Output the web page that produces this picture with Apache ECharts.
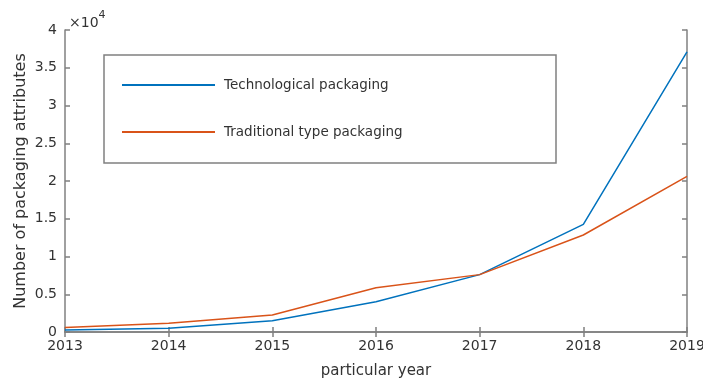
<!DOCTYPE html>
<html>
<head>
<meta charset="utf-8">
<script src="https://cdn.jsdelivr.net/npm/echarts@6/dist/echarts.min.js"></script>
<style>
  html, body { margin: 0; padding: 0; background: #fff; }
  #chart { width: 703px; height: 385px; }
</style>
</head>
<body>
<div id="chart"></div>
<script>
const years = ['2013', '2014', '2015', '2016', '2017', '2018', '2019']
const techPackaging = [250, 500, 1500, 4000, 7600, 14250, 37100]
const traditionalPackaging = [600, 1150, 2250, 5850, 7600, 12850, 20600]
const seriesNames = ['Technological packaging', 'Traditional type packaging']

const font = 'DejaVu Sans'
const textColor = '#333'
const axisColor = '#808080'

const chart = echarts.init(document.getElementById('chart'))

const boxAxisLine = {show: true, lineStyle: {color: axisColor, width: 1.5}}
const innerTick = {show: true, inside: true, length: 5, lineStyle: {color: axisColor, width: 1.5}}

chart.setOption({
  animation: false,
  textStyle: {fontFamily: font},
  title: {
    left: 64,
    top: 5,
    text: '{a|×10}{b|4}',
    textStyle: {
      rich: {
        a: {fontFamily: font, fontSize: 14, fontWeight: 'normal', color: textColor, padding: [6, 0, 0, 0]},
        b: {fontFamily: font, fontSize: 11, fontWeight: 'normal', color: textColor, verticalAlign: 'top'}
      }
    }
  },
  grid: {left: 65, right: 16, top: 30, bottom: 53, outerBoundsMode: 'none'},
  graphic: [{
    type: 'rect',
    z: 3,
    shape: {x: 104, y: 55, width: 452, height: 108},
    style: {fill: '#fff', stroke: axisColor, lineWidth: 1.5}
  }],
  legend: {
    orient: 'vertical',
    left: 122,
    top: 77,
    padding: 0,
    itemWidth: 93,
    itemHeight: 2,
    itemGap: 31,
    icon: 'rect',
    textStyle: {fontFamily: font, fontSize: 13.5, color: textColor, lineHeight: 16, padding: [0, 0, 0, 4]},
    data: seriesNames
  },
  xAxis: [{
    type: 'category',
    data: years,
    boundaryGap: false,
    name: 'particular year',
    nameLocation: 'middle',
    nameGap: 32,
    nameMoveOverlap: false,
    nameTextStyle: {fontFamily: font, fontSize: 15, color: textColor},
    axisLine: boxAxisLine,
    axisTick: innerTick,
    axisLabel: {fontFamily: font, fontSize: 14, color: textColor, margin: 7, showMaxLabel: true, showMinLabel: true},
    splitLine: {show: false}
  }, {
    type: 'category',
    data: years,
    boundaryGap: false,
    position: 'top',
    axisLine: boxAxisLine,
    axisTick: innerTick,
    axisLabel: {show: false},
    splitLine: {show: false}
  }],
  yAxis: [{
    type: 'value',
    min: 0,
    max: 40000,
    interval: 5000,
    name: 'Number of packaging attributes',
    nameLocation: 'middle',
    nameGap: 36,
    nameMoveOverlap: false,
    nameTextStyle: {fontFamily: font, fontSize: 16, color: textColor},
    axisLine: boxAxisLine,
    axisTick: innerTick,
    axisLabel: {
      fontFamily: font, fontSize: 14, color: textColor, margin: 8,
      formatter: v => String(v / 10000)
    },
    splitLine: {show: false}
  }, {
    type: 'value',
    min: 0,
    max: 40000,
    interval: 5000,
    position: 'right',
    axisLine: boxAxisLine,
    axisTick: innerTick,
    axisLabel: {show: false},
    splitLine: {show: false}
  }],
  series: [
    {
      name: seriesNames[0],
      type: 'line',
      data: techPackaging,
      symbol: 'none',
      color: '#0072BD',
      lineStyle: {width: 1.5, color: '#0072BD'}
    },
    {
      name: seriesNames[1],
      type: 'line',
      data: traditionalPackaging,
      symbol: 'none',
      color: '#D95319',
      lineStyle: {width: 1.5, color: '#D95319'}
    }
  ]
})
</script>
</body>
</html>
